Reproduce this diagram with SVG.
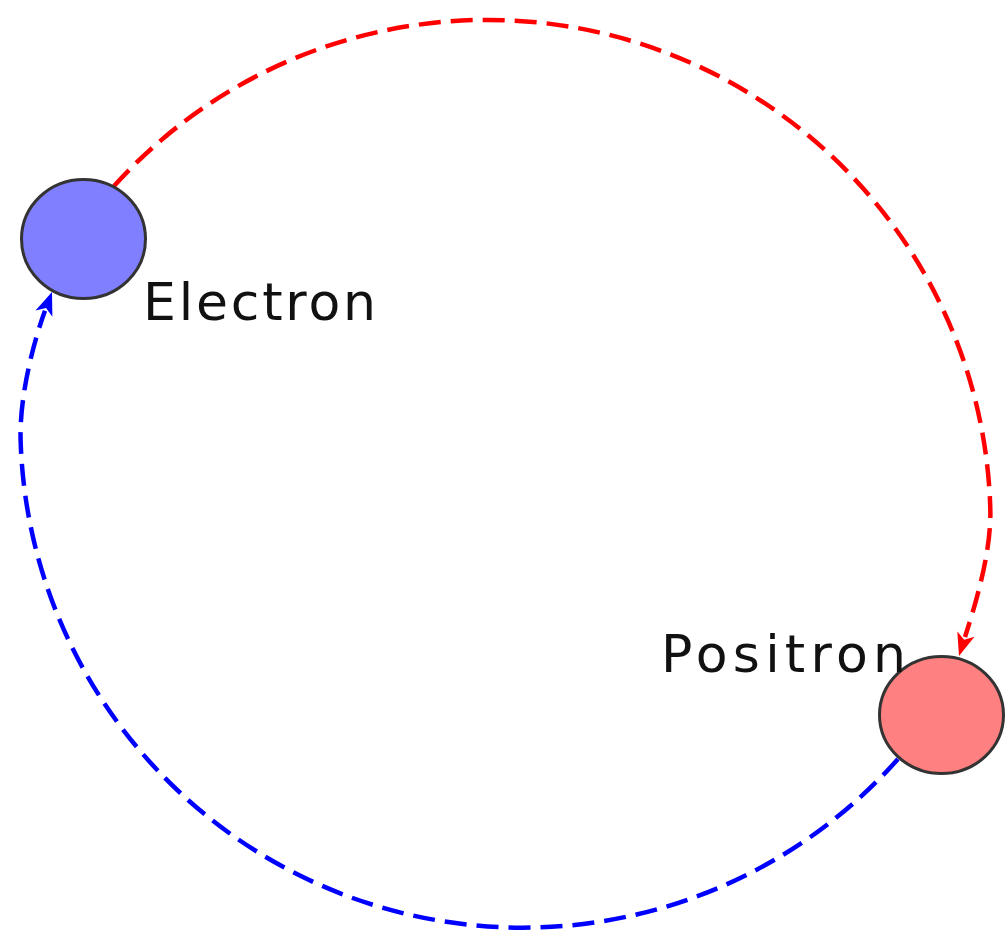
<svg xmlns="http://www.w3.org/2000/svg" width="1007" height="939" viewBox="0 0 1007 939">
  <style>
    .conn { fill: none; stroke-width: 4.5; stroke-dasharray: 22 10; }
    .red { stroke: #ff0000; }
    .blue { stroke: #0000ff; }
    .node { stroke: #333333; stroke-width: 3; }
    .label { font-family: "DejaVu Sans", "Liberation Sans", sans-serif; font-size: 52px; fill: #111111; }
  </style>
  <defs>
    <marker id="arrowRed" markerUnits="userSpaceOnUse" markerWidth="30" markerHeight="24" viewBox="-4 -12 30 24" refX="0" refY="0" orient="auto">
      <path d="M 20 0 L -3 -9 L 3 0 L -3 9 Z" fill="#ff0000"/>
    </marker>
    <marker id="arrowBlue" markerUnits="userSpaceOnUse" markerWidth="30" markerHeight="24" viewBox="-4 -12 30 24" refX="0" refY="0" orient="auto">
      <path d="M 20 0 L -3 -9 L 3 0 L -3 9 Z" fill="#0000ff"/>
    </marker>
  </defs>
  <g id="connectors">
    <path id="electron-to-positron" class="conn red" d="M 114 186 A 503 503 0 0 1 990.3 508.6 C 991.6 553.6 974 608.5 965 637" marker-end="url(#arrowRed)"/>
    <path id="positron-to-electron" class="conn blue" d="M 898 759 A 502.2 502.2 0 0 1 20.6 440 C 19.3 395 34.5 339 45 310.8" marker-end="url(#arrowBlue)"/>
  </g>
  <g id="electron">
    <ellipse class="node" cx="83.5" cy="239" rx="62" ry="59.5" fill="#7f7fff"/>
    <text class="label" x="143" y="320" textLength="233" lengthAdjust="spacing">Electron</text>
  </g>
  <g id="positron">
    <ellipse class="node" cx="941.5" cy="715" rx="62" ry="58.5" fill="#ff8080"/>
    <text class="label" x="661" y="672" textLength="245" lengthAdjust="spacing">Positron</text>
  </g>
</svg>
